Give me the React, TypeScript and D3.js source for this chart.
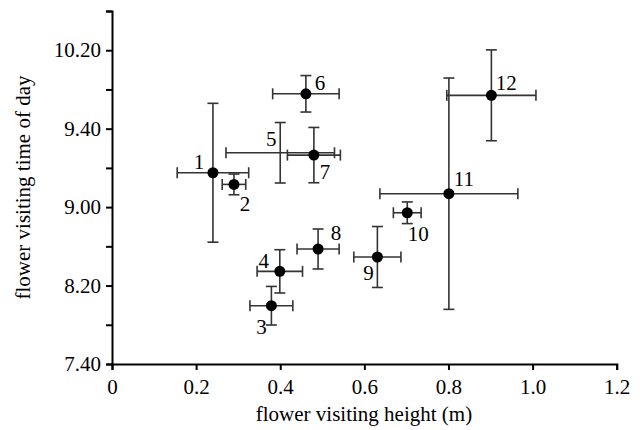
import React from 'react'
import * as d3 from 'd3'

// flower visiting height (m) and time of day (decimal hours) per species
const ids = ['1', '2', '3', '4', '5', '6', '7', '8', '9', '10', '11', '12']
const heights = [0.24, 0.29, 0.379, 0.399, 0.4, 0.461, 0.48, 0.49, 0.631, 0.702, 0.801, 0.902]
const heightErr = [0.085, 0.028, 0.051, 0.054, 0.129, 0.079, 0.063, 0.05, 0.056, 0.033, 0.164, 0.106]
const times = [9.292, 9.193, 8.162, 8.454, 9.462, 9.963, 9.442, 8.644, 8.576, 8.952, 9.114, 9.95]
const timeErr = [0.59, 0.088, 0.164, 0.184, 0.257, 0.155, 0.235, 0.17, 0.259, 0.092, 0.983, 0.386]
const showDot = [true, true, true, true, false, true, true, true, true, true, true, true]

const xTicks = [0, 0.2, 0.4, 0.6, 0.8, 1.0, 1.2]
const yTickLabels = ['7.40', '', '8.20', '', '9.00', '', '9.40', '', '10.20', '']
const yTicks = yTickLabels.map((_, i) => 7 + 40 / 60 + i / 3)

// label offsets relative to each point (px)
const labelDx = [-14, 11, -10, -16, -9, 14, 11, 18, -9, 11, 15, 15]
const labelDy = [-11, 19, 21, -11, -14, -11, 17, -16, 16, 21, -15, -13]

const W = 640
const H = 430
const FONT = '"Liberation Serif", "Times New Roman", serif'

export default function App() {
  const xRef = React.useRef<SVGGElement>(null)
  const yRef = React.useRef<SVGGElement>(null)

  const x = d3.scaleLinear().domain([0, 1.2]).range([112, 616.7])
  const y = d3.scaleLinear().domain([7 + 40 / 60, 10 + 40 / 60]).range([364, 11])

  React.useEffect(() => {
    const xAxis = d3
      .axisBottom(x)
      .tickValues(xTicks)
      .tickSize(6)
      .tickPadding(9)
      .tickFormat(d => (+d === 0 ? '0' : d3.format('.1f')(+d)))
    const yAxis = d3
      .axisLeft(y)
      .tickValues(yTicks)
      .tickSize(6)
      .tickPadding(5)
      .tickFormat((_, i) => yTickLabels[i])

    const gx = d3.select(xRef.current!).call(xAxis)
    const gy = d3.select(yRef.current!).call(yAxis)
    for (const g of [gx, gy]) {
      g.selectAll('path,line').attr('stroke', '#000').attr('stroke-width', 2)
      g.selectAll('text').attr('font-family', FONT).attr('font-size', 21).attr('fill', '#000')
      g.attr('font-family', null).attr('font-size', null)
    }
  }, [])

  const cap = 5.5

  return (
    <>
      <style>{'body{margin:0}'}</style>
      <svg width={W} height={H} style={{ display: 'block', background: '#fff' }}>
        <g stroke="#333" strokeWidth={1.6} fill="none">
          {ids.map((id, i) => {
            const cx = x(heights[i])
            const cy = y(times[i])
            const x0 = x(heights[i] - heightErr[i])
            const x1 = x(heights[i] + heightErr[i])
            const y0 = y(times[i] + timeErr[i])
            const y1 = y(times[i] - timeErr[i])
            return (
              <g key={id}>
                <line x1={cx} x2={cx} y1={y0} y2={y1} />
                <line x1={cx - cap} x2={cx + cap} y1={y0} y2={y0} />
                <line x1={cx - cap} x2={cx + cap} y1={y1} y2={y1} />
                <line x1={x0} x2={x1} y1={cy} y2={cy} />
                <line x1={x0} x2={x0} y1={cy - cap} y2={cy + cap} />
                <line x1={x1} x2={x1} y1={cy - cap} y2={cy + cap} />
              </g>
            )
          })}
        </g>
        <g fill="#000">
          {ids.map((id, i) =>
            showDot[i] ? <circle key={id} cx={x(heights[i])} cy={y(times[i])} r={5.5} /> : null
          )}
        </g>
        <g fontFamily={FONT} fontSize={21} fill="#000" textAnchor="middle">
          {ids.map((id, i) => (
            <text key={id} x={x(heights[i]) + labelDx[i]} y={y(times[i]) + labelDy[i]} dy="0.35em">
              {id}
            </text>
          ))}
        </g>
        <g ref={xRef} transform="translate(0,364)" />
        <g ref={yRef} transform="translate(112,0)" />
        <text x={364} y={421} textAnchor="middle" fontFamily={FONT} fontSize={21} fill="#000">
          flower visiting height (m)
        </text>
        <text
          transform={`translate(30,${(364 + 11) / 2}) rotate(-90)`}
          textAnchor="middle"
          fontFamily={FONT}
          fontSize={21}
          fill="#000"
        >
          flower visiting time of day
        </text>
      </svg>
    </>
  )
}
